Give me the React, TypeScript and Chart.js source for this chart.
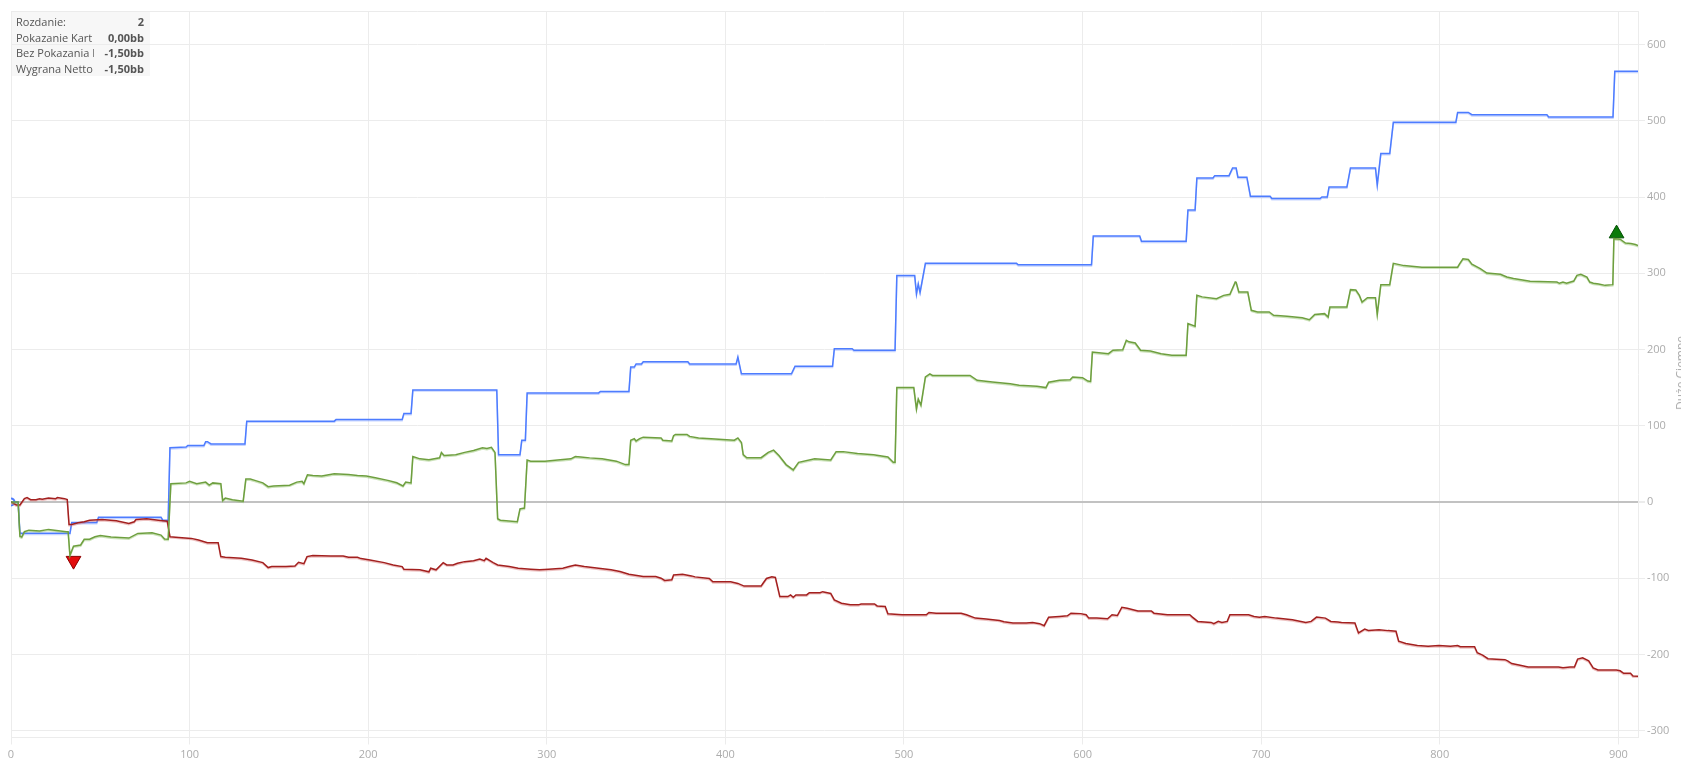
import React, { useEffect, useRef } from "react";
import { Chart, registerables } from "chart.js";

Chart.register(...registerables);

// ---- data (hand number, bb) ----
const xTickValues = [0, 100, 200, 300, 400, 500, 600, 700, 800, 900];
const yTickValues = [-300, -200, -100, 0, 100, 200, 300, 400, 500, 600];

// Pokazanie Kart (showdown) - blue
const showdownPts: [number, number][] = [
  [0, 0], [4, 0], [5, -41], [33, -41], [34, -27], [48, -27], [49, -20], [84, -20], [85, -24], [88, -24],
  [89, 71], [98, 72], [99, 74], [108, 74], [109, 79], [110, 79], [112, 76], [131, 76], [132, 106], [181, 106],
  [182, 108], [219, 108], [220, 116], [224, 116], [225, 147], [272, 147], [273, 62], [285, 62], [286, 81], [288, 81],
  [289, 143], [329, 143], [330, 145], [346, 145], [347, 177], [349, 177], [350, 181], [353, 181], [354, 184], [379, 184],
  [380, 181], [406, 181], [407, 190], [409, 168], [437, 168], [439, 178], [460, 178], [461, 201], [471, 201], [472, 199],
  [495, 199], [496, 297], [506, 297], [507, 273], [508, 286], [509, 275], [512, 313], [563, 313], [564, 311], [605, 311],
  [606, 349], [632, 349], [633, 342], [658, 342], [659, 383], [663, 383], [664, 425], [673, 425], [674, 428], [682, 428],
  [684, 438], [686, 438], [687, 426], [692, 426], [694, 401], [705, 401], [706, 398], [733, 398], [734, 400], [737, 400],
  [738, 413], [748, 413], [750, 438], [764, 438], [765, 416], [767, 457], [772, 457], [774, 498], [809, 498], [810, 511],
  [816, 511], [818, 508], [860, 508], [861, 505], [897, 505], [898, 565], [911, 565],
];

// Bez Pokazania Kart (non-showdown) - red
const nonShowdownPts: [number, number][] = [
  [0, 0], [3, -4], [5, -4], [7.5, 4.3], [9, 5.7], [11, 3], [14, 3], [16, 4.3], [17.5, 3.5], [21, 5.2],
  [25, 4.3], [26, 5.7], [30, 4.3], [31.5, 3], [32.5, -29.6], [34, -29.6], [37.5, -27.4], [41, -26], [44, -24], [51, -23],
  [59, -24.8], [66, -28.3], [69, -26], [70, -23], [76, -22.2], [82.5, -24], [87.5, -25.2], [89, -45.6], [94, -46.5], [101, -47.8],
  [105, -50], [110, -53.5], [116, -53.5], [117.5, -71.7], [120, -72.6], [129, -73.9], [135, -76.1], [141, -79.6], [144, -86.1], [146, -84.8],
  [154, -84.8], [159, -83.9], [161, -79.1], [164, -81], [165.75, -71.7], [169, -70.4], [179, -70.8], [186, -70.8], [189, -72.6], [194, -72.6],
  [196, -74.3], [201, -76.1], [209, -79.6], [214, -82.6], [219, -84.8], [220, -88.3], [229, -89.1], [234, -91.7], [235, -87], [238, -89],
  [242, -79.6], [244, -82.6], [247.5, -82.6], [250, -80.4], [254, -78.3], [259, -77], [262.5, -74.8], [265, -77], [266, -73.9], [270, -79.6],
  [272.5, -82.6], [279, -84.8], [284, -87], [291, -88.3], [296, -89.1], [301, -88.3], [309, -87], [312.5, -84.8], [316, -82.6], [321, -84.8],
  [329, -87], [336, -89.1], [341, -91.3], [346, -94.8], [354, -97.8], [361, -97.8], [364, -100], [366, -103], [370, -102], [371, -95.7],
  [376, -95], [381, -97], [383, -98.3], [391, -100.4], [393, -104.8], [403, -104.8], [407, -106.9], [410.5, -110.4], [420, -110.4], [421, -107],
  [423, -100.4], [426, -98.3], [428, -99], [430.5, -124.2], [435, -124.2], [436.5, -122], [438, -125], [439.5, -122], [445.5, -122], [447, -119],
  [453, -119], [454.5, -117.7], [459, -120], [461, -128.6], [465, -132.9], [470, -135], [474.5, -135], [476, -133.8], [483.5, -133.8], [485, -136.4],
  [489.5, -137.2], [491, -146.8], [499, -148], [512.5, -148], [514, -145], [518, -145.9], [532, -145.9], [535, -148], [540, -152.4], [546, -153.7],
  [553.5, -155.4], [556, -157.1], [561, -158.9], [568.5, -158.9], [572, -158], [576, -159.7], [578.5, -162.3], [581, -151.1], [587, -150.2], [591.5, -149.4],
  [593.5, -145.9], [599, -146.5], [602, -148], [603.5, -152.4], [608, -152.4], [614, -153.2], [616.5, -148], [619.5, -149], [622, -138.1], [625, -139.4],
  [631, -142.9], [638.5, -142.9], [640, -145.9], [647.5, -148], [660, -148], [661.5, -151.1], [664.5, -156.7], [672, -158], [673.5, -159.7], [676, -156.7],
  [678, -158], [681, -156.7], [682.5, -148], [693, -148], [696, -150.2], [699, -151.1], [702, -150.2], [708.5, -152.4], [717.5, -154.5], [725, -158],
  [728, -156.7], [731, -151.1], [736, -152.4], [739, -156.7], [743, -157.5], [745, -158], [752.5, -158.9], [754.5, -171.9], [758, -166.7], [760, -168.5],
  [766, -167.5], [771, -168.8], [775.5, -169.7], [777, -182.7], [781, -185.7], [787.5, -188.3], [793.5, -189.2], [799.5, -188.3], [806, -189.2], [810, -188.3],
  [811.5, -190], [819.5, -190], [821, -197.8], [824, -200.9], [827, -205.6], [836.5, -206.9], [838, -208.5], [840.3, -212], [845, -214.3], [849.5, -216.5],
  [866.5, -216.5], [869, -217.5], [873, -216.5], [875.4, -216.5], [877.2, -206.2], [880, -204.5], [883.4, -208.5], [885.9, -217.8], [888.6, -220.4], [898.9, -220.4],
  [901, -221.5], [903, -224.8], [906.8, -224.8], [908.2, -228.3], [911, -228.5],
];

// Wygrana Netto (net) - green
const netPts: [number, number][] = [
  [0, 0], [4, 0], [5, -45], [6, -46], [7.5, -39], [10, -37], [16, -38], [21, -36], [31, -39], [32, -39],
  [33, -70], [35, -58], [39, -56.5], [41, -49], [44, -49], [47, -45.6], [50, -44], [56, -46], [66, -47.4], [71, -41.3],
  [79, -40.4], [84, -43.5], [86, -48.7], [88, -49], [89.5, 24], [98, 25], [100, 27], [104, 24], [109, 26], [111, 22],
  [113, 25], [117.5, 24], [118.5, 2], [120, 5], [124, 3], [130, 1], [131.5, 30], [134, 30], [137, 28], [141, 25],
  [144, 20], [147, 21], [156, 22], [160, 26], [163, 27], [164, 24], [166, 35.7], [169, 34.8], [174, 34], [181, 37],
  [189, 36], [194, 34.8], [199, 33.9], [204, 31.7], [211, 28.3], [216, 25.2], [219.5, 21], [221, 26], [224, 25], [225, 59.6],
  [229, 56.5], [234, 55.2], [240, 58], [241, 65], [242.5, 61], [249, 62], [254, 65], [259, 67.4], [264, 71], [266.5, 70],
  [269, 71.7], [271, 65], [272.5, -22], [274, -24], [283.5, -26], [285, -9], [287.5, -8], [289, 55], [291, 53.5], [299, 53.5],
  [306, 55], [313.5, 56.5], [316, 59.6], [319, 59], [324, 57.8], [331, 56.5], [339, 53.5], [344, 49], [346, 49], [347, 81],
  [349, 83], [350, 80], [352, 83], [354, 85], [364, 84], [365, 81], [370, 80], [371, 87], [372, 88.6], [378.5, 88.6],
  [380, 86], [385, 84], [392, 83], [405, 81], [407, 84], [409, 78], [410, 62], [412, 58], [420, 58], [424, 65],
  [427, 68], [430, 61], [434, 49], [438, 42], [441, 52], [450, 56.5], [459, 55], [462, 66], [466, 66], [474, 63.5],
  [483, 62], [491, 59], [494, 52], [495, 52], [496, 150], [505.5, 150], [507, 122], [508, 135], [509.5, 127], [512, 164],
  [514.5, 168], [516, 166], [537, 166], [541, 159.5], [549.5, 157.3], [559.5, 155], [564.5, 153], [574.5, 151.6], [579.5, 150], [581, 157],
  [587, 159.5], [593, 160.3], [594.5, 164], [600, 163], [603, 158.6], [604.5, 158], [605.5, 196.7], [614.5, 194.5], [617, 199], [622.5, 199.7],
  [624.5, 212], [626, 210], [629.5, 208.5], [632.5, 199], [638, 198], [644, 194.5], [650, 192.3], [658, 192.3], [659, 234], [663, 230.4],
  [664, 271], [667, 269], [675, 266.7], [679, 271], [682.5, 272.4], [685.5, 288.5], [686, 288], [687.5, 275.4], [692.5, 275.4], [694.5, 251.4],
  [698, 249.2], [704.5, 249.2], [707, 244.8], [714.5, 243.5], [723, 241.7], [727, 239], [730, 246], [735.5, 247], [737.5, 242.6], [738.5, 255.7],
  [748, 255.7], [750, 278.5], [753, 278], [755, 271], [756.5, 262.3], [759.5, 268], [764, 268], [765, 246], [767, 285], [772, 285],
  [774, 313], [780, 310], [790, 308], [810, 308], [811, 312], [813, 319], [816, 318], [818, 312], [822.7, 306], [826.4, 300.3],
  [834, 298.6], [837.6, 295], [841.3, 293], [850.6, 289.4], [865.6, 288.5], [867, 286.8], [869, 288.5], [871, 287], [875, 289.8], [876.8, 297.2],
  [879, 298.6], [882.4, 295], [884, 288.5], [886, 286.9], [889, 286], [892.6, 284.1], [896.9, 285], [897.5, 345.4], [901, 344.6], [904, 339.6],
  [907, 339], [909.6, 337.7], [911, 336.4],
];

const minMarkerPts: [number, number][] = [[35, -77]];
const maxMarkerPts: [number, number][] = [[899, 352]];
const startMarkerPts: [number, number][] = [[0, 0]];

const infoLabels = ["Rozdanie:", "Pokazanie Kart", "Bez Pokazania Kart", "Wygrana Netto"];
const infoValues = ["2", "0,00bb", "-1,50bb", "-1,50bb"];
const axisTitle = "Duże Ciemne";

const X_MIN = 0;
const X_MAX = 911;
const Y_MIN = -309;
const Y_MAX = 644;

const toXY = (pts: [number, number][]) => pts.map(([x, y]) => ({ x, y }));

const FONT = "'Open Sans', 'Noto Sans', sans-serif";

export default function App() {
  const ref = useRef<HTMLCanvasElement | null>(null);

  useEffect(() => {
    if (!ref.current) return;

    const frame = {
      id: "frame",
      beforeDatasetsDraw(chart: any) {
        const { ctx, chartArea } = chart;
        ctx.save();
        ctx.strokeStyle = "#ebebeb";
        ctx.lineWidth = 1;
        ctx.beginPath();
        ctx.moveTo(chartArea.left, chartArea.top + 0.5);
        ctx.lineTo(chartArea.right, chartArea.top + 0.5);
        ctx.stroke();
        ctx.restore();
      },
    };

    const halo = {
      id: "halo",
      beforeDatasetDraw(chart: any, args: any) {
        const ds = chart.data.datasets[args.index];
        chart.ctx.save();
        if (ds.haloColor) {
          chart.ctx.shadowColor = ds.haloColor;
          chart.ctx.shadowOffsetY = 1.2;
          chart.ctx.shadowBlur = 0.5;
        }
      },
      afterDatasetDraw(chart: any) {
        chart.ctx.restore();
      },
    };

    const lineBase = {
      pointRadius: 0,
      pointHoverRadius: 0,
      tension: 0,
      borderWidth: 1.5,
      fill: false,
    };

    const chart = new Chart(ref.current, {
      type: "line",
      data: {
        datasets: [
          {
            ...lineBase,
            label: infoLabels[3],
            data: toXY(netPts),
            borderColor: "#6e9f3f",
            haloColor: "rgba(140,190,100,0.45)",
          } as any,
          {
            ...lineBase,
            label: infoLabels[2],
            data: toXY(nonShowdownPts),
            borderColor: "#a3201f",
            haloColor: "rgba(215,120,120,0.45)",
          } as any,
          {
            ...lineBase,
            label: infoLabels[1],
            data: toXY(showdownPts),
            borderColor: "#4d7cff",
            haloColor: "rgba(130,160,255,0.45)",
          } as any,
          {
            label: "start",
            data: toXY(startMarkerPts),
            showLine: false,
            pointStyle: "circle",
            pointRadius: 3.5,
            pointBorderWidth: 2,
            pointBorderColor: "#4d7cff",
            pointBackgroundColor: "#ffffff",
            borderColor: "#4d7cff",
          } as any,
          {
            label: "min",
            data: toXY(minMarkerPts),
            showLine: false,
            pointStyle: "triangle",
            pointRotation: 180,
            pointRadius: 8.5,
            pointBorderWidth: 1,
            pointBackgroundColor: "#e30d0d",
            pointBorderColor: "#8c0000",
            clip: false,
          } as any,
          {
            label: "max",
            data: toXY(maxMarkerPts),
            showLine: false,
            pointStyle: "triangle",
            pointRotation: 0,
            pointRadius: 8.5,
            pointBorderWidth: 1,
            pointBackgroundColor: "#0a7a0a",
            pointBorderColor: "#045004",
            clip: false,
          } as any,
        ],
      },
      options: {
        animation: false,
        responsive: false,
        events: [],
        layout: { padding: { left: 11, top: 11, right: 0, bottom: 0 } },
        plugins: {
          legend: { display: false },
          tooltip: { enabled: false },
          title: { display: false },
        },
        scales: {
          x: {
            type: "linear",
            min: X_MIN,
            max: X_MAX,
            afterBuildTicks: (scale: any) => {
              scale.ticks = xTickValues.map((v) => ({ value: v }));
            },
            afterFit: (scale: any) => {
              scale.height = 29.5;
            },
            ticks: {
              autoSkip: false,
              maxRotation: 0,
              color: "#acacac",
              padding: 4,
              font: { family: FONT, size: 11 },
            },
            grid: {
              color: "#ececec",
              tickColor: "#ececec",
              tickLength: 7,
              lineWidth: 1,
            },
            border: { display: true, color: "#ececec", width: 1 },
          },
          y: {
            type: "linear",
            position: "right",
            min: Y_MIN,
            max: Y_MAX,
            afterBuildTicks: (scale: any) => {
              scale.ticks = yTickValues.map((v) => ({ value: v }));
            },
            afterFit: (scale: any) => {
              scale.width = 43;
            },
            ticks: {
              autoSkip: false,
              color: "#acacac",
              padding: 2,
              font: { family: FONT, size: 11 },
            },
            grid: {
              color: (c: any) => (c.tick && c.tick.value === 0 ? "#c2c2c2" : "#ececec"),
              lineWidth: (c: any) => (c.tick && c.tick.value === 0 ? 2 : 1),
              tickColor: "#ececec",
              tickLength: 7,
            },
            border: { display: true, color: "#ececec", width: 1 },
          },
        },
      } as any,
      plugins: [frame, halo],
    });

    return () => chart.destroy();
  }, []);

  return (
    <div
      style={{
        position: "absolute",
        left: 0,
        top: 0,
        width: 1681,
        height: 767,
        overflow: "hidden",
        background: "#ffffff",
      }}
    >
      <canvas ref={ref} width={1681} height={767} style={{ display: "block", width: 1681, height: 767 }} />
      <div
        style={{
          position: "absolute",
          left: 12,
          top: 11,
          width: 138,
          height: 65,
          boxSizing: "border-box",
          padding: "3px 6px 0 4px",
          background: "rgba(236,236,236,0.42)",
          fontFamily: FONT,
          fontSize: 11,
          color: "#555555",
        }}
      >
        {infoLabels.map((lab, i) => (
          <div key={lab} style={{ display: "flex", height: 15.5, lineHeight: "15.5px" }}>
            <span style={{ width: 78, overflow: "hidden", whiteSpace: "nowrap" }}>{lab}</span>
            <span style={{ flex: 1, textAlign: "right", fontWeight: 700, whiteSpace: "nowrap" }}>
              {infoValues[i]}
            </span>
          </div>
        ))}
      </div>
      <div
        style={{
          position: "absolute",
          left: 1673,
          top: 336,
          writingMode: "vertical-rl",
          transform: "rotate(180deg)",
          fontFamily: FONT,
          fontSize: 12,
          lineHeight: "16px",
          color: "#acacac",
          whiteSpace: "nowrap",
        }}
      >
        {axisTitle}
      </div>
    </div>
  );
}
